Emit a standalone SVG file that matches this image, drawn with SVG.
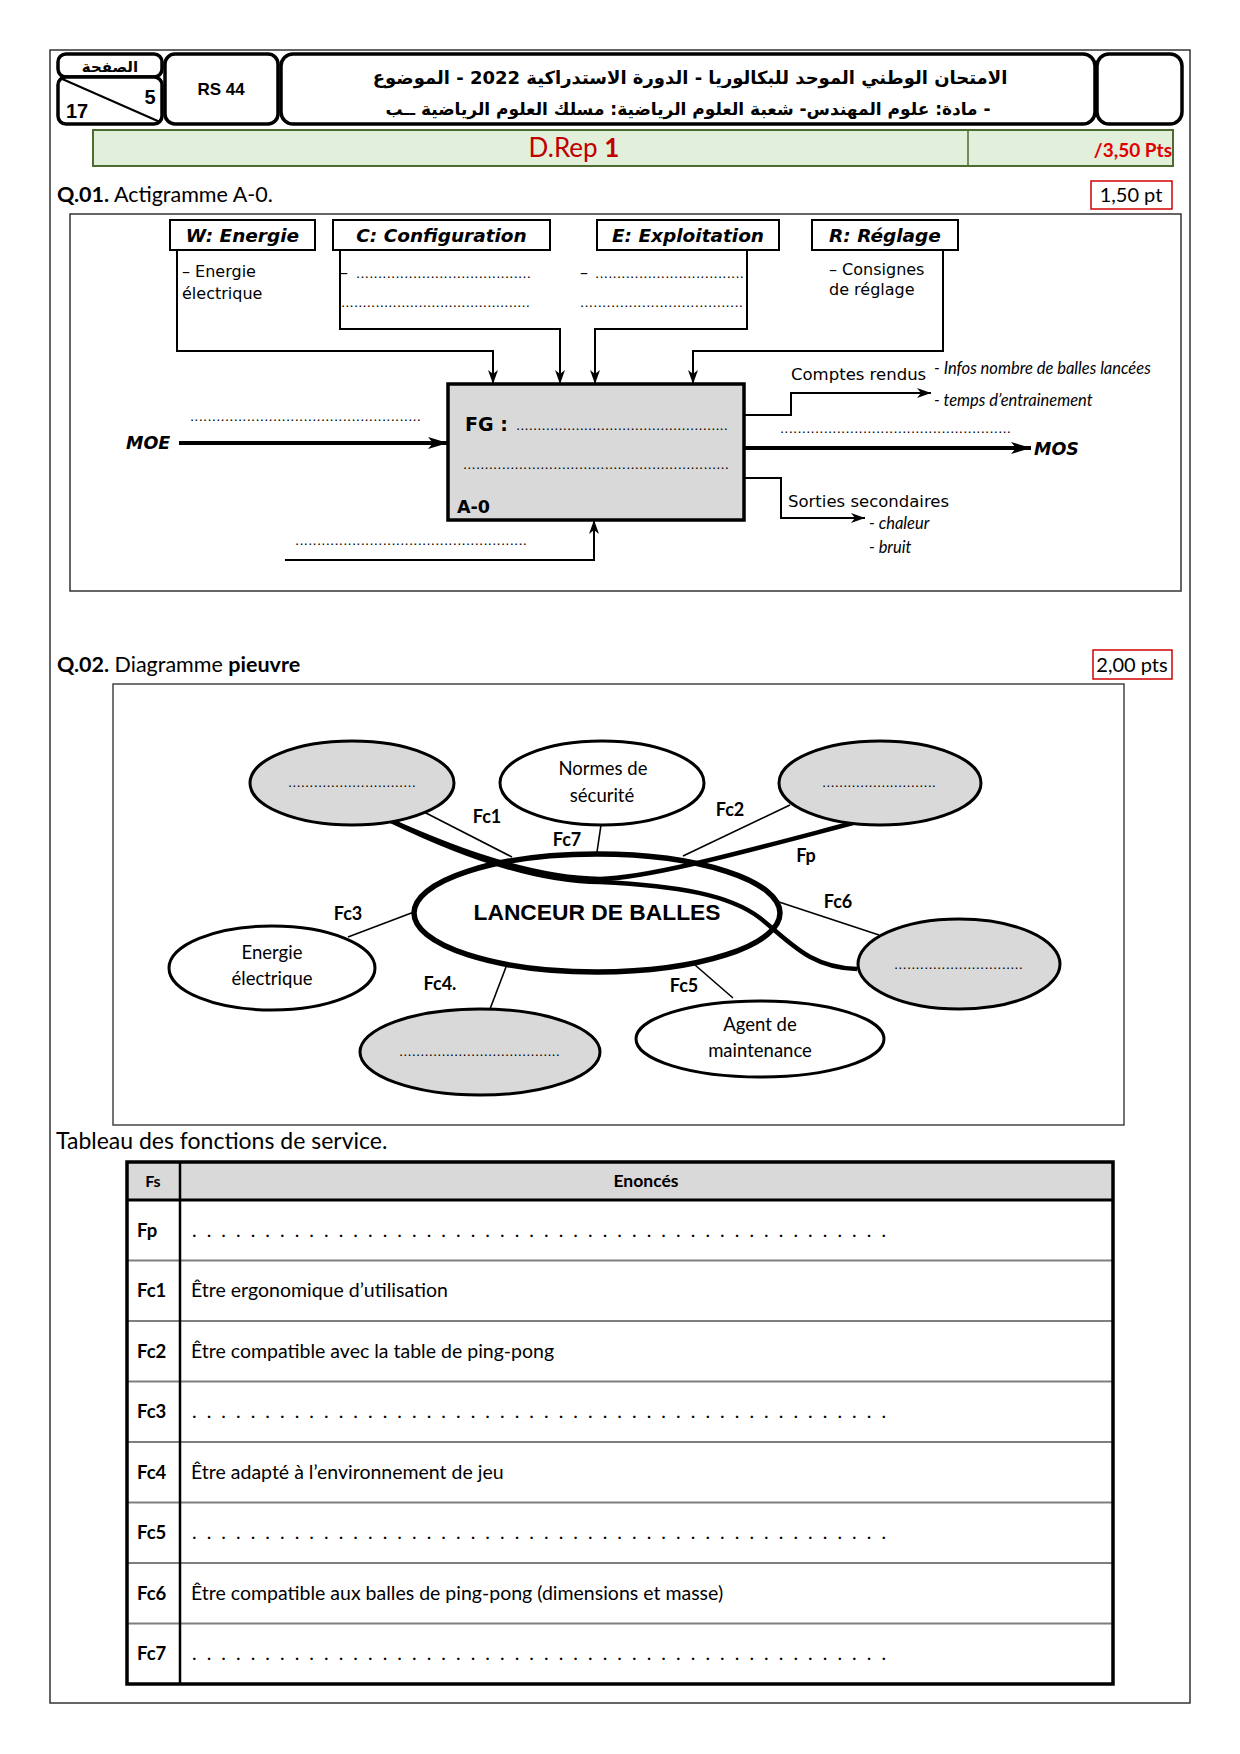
<svg xmlns="http://www.w3.org/2000/svg" width="1240" height="1754" viewBox="0 0 1240 1754">
<defs>
<marker id="ah" markerUnits="userSpaceOnUse" viewBox="0 0 14 10" refX="14" refY="5" markerWidth="14" markerHeight="10" orient="auto"><path d="M0,0 L14,5 L0,10 L4,5 z" fill="#000"/></marker>
<marker id="ahb" markerUnits="userSpaceOnUse" viewBox="0 0 20 12" refX="20" refY="6" markerWidth="20" markerHeight="12" orient="auto"><path d="M0,0 L20,6 L0,12 L5,6 z" fill="#000"/></marker>
<style>
.cal{font-family:Lato,"Open Sans",sans-serif}
.dv{font-family:"DejaVu Sans",sans-serif}
.ls{font-family:"Liberation Sans",Arial,sans-serif}
.hb{fill:#fff;stroke:#000;stroke-width:3.5}
.lab{fill:#fff;stroke:#000;stroke-width:2}
.lt{font-family:"DejaVu Sans",sans-serif;font-weight:bold;font-style:italic;font-size:18.5px;text-anchor:middle}
.ln{fill:none;stroke:#000;stroke-width:2}
.thk{fill:none;stroke:#000;stroke-width:4.5}
.thin{fill:none;stroke:#000;stroke-width:1.6}
.eg{fill:#d9d9d9;stroke:#000;stroke-width:3}
.ew{fill:#fff;stroke:#000;stroke-width:3}
.et{font-family:Lato,"Open Sans",sans-serif;font-size:18.5px;text-anchor:middle}
.fl{font-family:Lato,"Open Sans",sans-serif;font-size:18px;font-weight:bold;text-anchor:middle}
.dots{font-family:"DejaVu Sans",sans-serif;font-size:13px}
.rl{font-family:Lato,"Open Sans",sans-serif;font-size:18.5px;font-weight:bold}
.rt{font-family:Lato,"Open Sans",sans-serif;font-size:19.5px}
.it{font-family:Lato,"Open Sans",sans-serif;font-size:16.5px;font-style:italic}
</style>
</defs>
<rect width="1240" height="1754" fill="#fff"/>
<rect x="50" y="50" width="1140" height="1653" fill="none" stroke="#333" stroke-width="1.5"/>

<!-- Header -->
<g id="header">
<rect class="hb" x="58" y="54" width="104" height="23" rx="8"/>
<rect class="hb" x="58" y="77" width="104" height="47" rx="8"/>
<line x1="60" y1="78" x2="160" y2="122" stroke="#000" stroke-width="2"/>
<text x="110" y="72" class="dv" font-size="15" font-weight="bold" text-anchor="middle" direction="rtl">الصفحة</text>
<text x="150" y="104" class="ls" font-size="20" font-weight="bold" text-anchor="middle">5</text>
<text x="77" y="118" class="ls" font-size="20" font-weight="bold" text-anchor="middle">17</text>
<rect class="hb" x="165" y="54" width="113" height="70" rx="10"/>
<text x="221" y="95" class="ls" font-size="17" font-weight="bold" text-anchor="middle">RS 44</text>
<rect class="hb" x="281" y="54" width="814" height="70" rx="12"/>
<text x="690" y="84" class="dv" font-size="18" font-weight="bold" text-anchor="middle" direction="rtl">الامتحان الوطني الموحد للبكالوريا - الدورة الاستدراكية 2022 - الموضوع</text>
<text x="688" y="115" class="dv" font-size="17" font-weight="bold" text-anchor="middle" direction="rtl">- مادة: علوم المهندس- شعبة العلوم الرياضية: مسلك العلوم الرياضية ــب</text>
<rect class="hb" x="1097" y="54" width="85" height="70" rx="12"/>
<rect x="93" y="130" width="1080" height="36" fill="#e2efda" stroke="#4e6b30" stroke-width="2"/>
<line x1="968" y1="130" x2="968" y2="166" stroke="#4e6b30" stroke-width="1.5"/>
<text x="574" y="157" class="cal" font-size="26" fill="#c00000" text-anchor="middle">D.Rep <tspan font-weight="bold">1</tspan></text>
<text x="1172" y="157" class="cal" font-size="19" font-weight="bold" fill="#e00000" text-anchor="end">/3,50 Pts</text>
</g>

<!-- Q.01 -->
<text x="57" y="202" class="cal" font-size="21.5"><tspan font-weight="bold">Q.01.</tspan> Actigramme A-0.</text>
<rect x="1091" y="181" width="81" height="28" fill="#fff" stroke="#d00000" stroke-width="1.5"/>
<text x="1131" y="202" class="cal" font-size="20" text-anchor="middle">1,50 pt</text>
<rect x="70" y="214" width="1111" height="377" fill="none" stroke="#333" stroke-width="1.5"/>

<g id="connectors-actigramme">
<path class="ln" d="M177,250 V351 H493 V384" marker-end="url(#ah)"/>
<path class="ln" d="M340,250 V329 H560 V384" marker-end="url(#ah)"/>
<path class="ln" d="M747,250 V329 H595 V384" marker-end="url(#ah)"/>
<path class="ln" d="M943,250 V351 H693 V384" marker-end="url(#ah)"/>
<path fill="none" stroke="#000" stroke-width="4" d="M179,443 H448" marker-end="url(#ahb)"/>
<path fill="none" stroke="#000" stroke-width="4" d="M744,448 H1031" marker-end="url(#ahb)"/>
<path class="ln" d="M285,560 H594 V520" marker-end="url(#ah)"/>
<path class="ln" d="M744,415 H791 V393 H931" marker-end="url(#ah)"/>
<path class="ln" d="M744,478 H781 V518 H865" marker-end="url(#ah)"/>
</g>

<g id="node-W">
<rect class="lab" x="170" y="220" width="145" height="30"/>
<text class="lt" x="242.5" y="242">W: Energie</text>
<text x="182" y="277" class="dv" font-size="16">– Energie</text>
<text x="182" y="299" class="dv" font-size="16">électrique</text>
</g>
<g id="node-C">
<rect class="lab" x="333" y="220" width="217" height="30"/>
<text class="lt" x="441.5" y="242">C: Configuration</text>
<text x="340" y="278" class="dv" font-size="16">–</text>
<text x="356" y="278" class="dots" textLength="175" lengthAdjust="spacing">........................................</text>
<text x="341" y="307" class="dots" textLength="189" lengthAdjust="spacing">............................................</text>
</g>
<g id="node-E">
<rect class="lab" x="597" y="220" width="182" height="30"/>
<text class="lt" x="688" y="242">E: Exploitation</text>
<text x="580" y="278" class="dv" font-size="16">–</text>
<text x="595" y="278" class="dots" textLength="149" lengthAdjust="spacing">..................................</text>
<text x="580" y="307" class="dots" textLength="163" lengthAdjust="spacing">.....................................</text>
</g>
<g id="node-R">
<rect class="lab" x="812" y="220" width="146" height="30"/>
<text class="lt" x="885" y="242">R: Réglage</text>
<text x="829" y="275" class="dv" font-size="16">–  Consignes</text>
<text x="829" y="295" class="dv" font-size="16">de réglage</text>
</g>
<g id="node-FG">
<rect x="448" y="384" width="296" height="136" fill="#d9d9d9" stroke="#000" stroke-width="3.5"/>
<text x="465" y="431" class="dv" font-size="19" font-weight="bold">FG :</text>
<text x="516" y="430" class="dots" textLength="212" lengthAdjust="spacing">..................................................</text>
<text x="463" y="469" class="dots" textLength="266" lengthAdjust="spacing">..............................................................</text>
<text x="457" y="513" class="dv" font-size="17.5" font-weight="bold">A-0</text>
</g>
<g id="node-MOE">
<text x="126" y="449" class="dv" font-size="17.5" font-weight="bold" font-style="italic">MOE</text>
<text x="190" y="421" class="dots" textLength="231" lengthAdjust="spacing">.....................................................</text>
</g>
<g id="node-MOS">
<text x="1034" y="455" class="dv" font-size="17.5" font-weight="bold" font-style="italic">MOS</text>
<text x="780" y="433" class="dots" textLength="231" lengthAdjust="spacing">.....................................................</text>
</g>
<g id="node-meca">
<text x="295" y="545" class="dots" textLength="232" lengthAdjust="spacing">.....................................................</text>
</g>
<g id="node-CR">
<text x="791" y="380" class="dv" font-size="16.5">Comptes rendus</text>
<text x="934" y="374" class="it">- Infos nombre de balles lancées</text>
<text x="934" y="406" class="it">- temps d’entrainement</text>
</g>
<g id="node-SS">
<text x="788" y="507" class="dv" font-size="16.5">Sorties secondaires</text>
<text x="869" y="529" class="it">- chaleur</text>
<text x="869" y="553" class="it">- bruit</text>
</g>

<!-- Q.02 -->
<text x="57" y="672" class="cal" font-size="21.5"><tspan font-weight="bold">Q.02.</tspan> Diagramme <tspan font-weight="bold">pieuvre</tspan></text>
<rect x="1093" y="650" width="79" height="29" fill="#fff" stroke="#d00000" stroke-width="1.5"/>
<text x="1132" y="672" class="cal" font-size="20" text-anchor="middle">2,00 pts</text>
<rect x="113" y="684" width="1011" height="441" fill="none" stroke="#444" stroke-width="1.5"/>

<g id="connectors-pieuvre">
<path class="thk" d="M389,820 C430,838 520,878 600,879 C650,878 750,850 853,823"/>
<path class="thk" d="M389,820 C430,840 520,882 600,882 C680,886 730,895 760,918 C790,942 810,968 857,969"/>
<line class="thin" x1="424" y1="812" x2="512" y2="857"/>
<line class="thin" x1="601" y1="825" x2="597" y2="852"/>
<line class="thin" x1="790" y1="805" x2="683" y2="856"/>
<line class="thin" x1="348" y1="937" x2="414" y2="912"/>
<line class="thin" x1="506" y1="967" x2="490" y2="1009"/>
<line class="thin" x1="695" y1="965" x2="733" y2="998"/>
<line class="thin" x1="779" y1="902" x2="879" y2="935"/>
<text class="fl" x="487" y="823">Fc1</text>
<text class="fl" x="567" y="846">Fc7</text>
<text class="fl" x="730" y="816">Fc2</text>
<text class="fl" x="806" y="862">Fp</text>
<text class="fl" x="838" y="908">Fc6</text>
<text class="fl" x="348" y="920">Fc3</text>
<text class="fl" x="440" y="990">Fc4.</text>
<text class="fl" x="684" y="992">Fc5</text>
</g>

<g id="node-lanceur">
<ellipse cx="597" cy="913" rx="183" ry="59" fill="none" stroke="#000" stroke-width="5.5"/>
<text x="597" y="920" class="ls" font-size="22.8" font-weight="bold" text-anchor="middle">LANCEUR DE BALLES</text>
</g>
<g id="node-tl">
<ellipse class="eg" cx="352" cy="783" rx="102" ry="42"/>
<text x="288" y="787" class="dots" textLength="128" lengthAdjust="spacing">..............................</text>
</g>
<g id="node-normes">
<ellipse class="ew" cx="602" cy="783" rx="102" ry="42"/>
<text class="et" x="603" y="775">Normes de</text>
<text class="et" x="602" y="802">sécurité</text>
</g>
<g id="node-tr">
<ellipse class="eg" cx="880" cy="783" rx="101" ry="42"/>
<text x="822" y="787" class="dots" textLength="114" lengthAdjust="spacing">...........................</text>
</g>
<g id="node-energie">
<ellipse class="ew" cx="272" cy="968" rx="103" ry="42"/>
<text class="et" x="272" y="959">Energie</text>
<text class="et" x="272" y="985">électrique</text>
</g>
<g id="node-bottom">
<ellipse class="eg" cx="480" cy="1052" rx="120" ry="43"/>
<text x="399" y="1056" class="dots" textLength="161" lengthAdjust="spacing">......................................</text>
</g>
<g id="node-agent">
<ellipse class="ew" cx="760" cy="1039" rx="124" ry="38"/>
<text class="et" x="760" y="1031">Agent de</text>
<text class="et" x="760" y="1057">maintenance</text>
</g>
<g id="node-right">
<ellipse class="eg" cx="959" cy="964" rx="101" ry="45"/>
<text x="894" y="969" class="dots" textLength="129" lengthAdjust="spacing">..............................</text>
</g>

<!-- Table -->
<text x="56" y="1149" class="cal" font-size="23">Tableau des fonctions de service.</text>
<g id="table">
<rect x="127" y="1162" width="986" height="38" fill="#d9d9d9"/>
<g stroke="#7f7f7f" stroke-width="2">
<line x1="127" y1="1260.5" x2="1113" y2="1260.5"/>
<line x1="127" y1="1321" x2="1113" y2="1321"/>
<line x1="127" y1="1381.5" x2="1113" y2="1381.5"/>
<line x1="127" y1="1442" x2="1113" y2="1442"/>
<line x1="127" y1="1502.5" x2="1113" y2="1502.5"/>
<line x1="127" y1="1563" x2="1113" y2="1563"/>
<line x1="127" y1="1623.5" x2="1113" y2="1623.5"/>
</g>
<line x1="127" y1="1200" x2="1113" y2="1200" stroke="#000" stroke-width="3"/>
<line x1="180" y1="1162" x2="180" y2="1684" stroke="#000" stroke-width="2.5"/>
<rect x="127" y="1162" width="986" height="522" fill="none" stroke="#000" stroke-width="3.5"/>
<text x="153" y="1187" class="cal" font-size="16" font-weight="bold" text-anchor="middle">Fs</text>
<text x="646" y="1187" class="cal" font-size="17.5" font-weight="bold" text-anchor="middle">Enoncés</text>
<text x="137" y="1237" class="rl">Fp</text>
<text x="137" y="1297" class="rl">Fc1</text>
<text x="137" y="1358" class="rl">Fc2</text>
<text x="137" y="1418" class="rl">Fc3</text>
<text x="137" y="1479" class="rl">Fc4</text>
<text x="137" y="1539" class="rl">Fc5</text>
<text x="137" y="1600" class="rl">Fc6</text>
<text x="137" y="1660" class="rl">Fc7</text>
<text x="192" y="1237" class="rt" textLength="694" lengthAdjust="spacing">. . . . . . . . . . . . . . . . . . . . . . . . . . . . . . . . . . . . . . . . . . . . . . . .</text>
<text x="191" y="1297" class="rt">Être ergonomique d’utilisation</text>
<text x="191" y="1358" class="rt">Être compatible avec la table de ping-pong</text>
<text x="192" y="1418" class="rt" textLength="694" lengthAdjust="spacing">. . . . . . . . . . . . . . . . . . . . . . . . . . . . . . . . . . . . . . . . . . . . . . . .</text>
<text x="191" y="1479" class="rt">Être adapté à l’environnement de jeu</text>
<text x="192" y="1539" class="rt" textLength="694" lengthAdjust="spacing">. . . . . . . . . . . . . . . . . . . . . . . . . . . . . . . . . . . . . . . . . . . . . . . .</text>
<text x="191" y="1600" class="rt">Être compatible aux balles de ping-pong (dimensions et masse)</text>
<text x="192" y="1660" class="rt" textLength="694" lengthAdjust="spacing">. . . . . . . . . . . . . . . . . . . . . . . . . . . . . . . . . . . . . . . . . . . . . . . .</text>
</g>
</svg>
